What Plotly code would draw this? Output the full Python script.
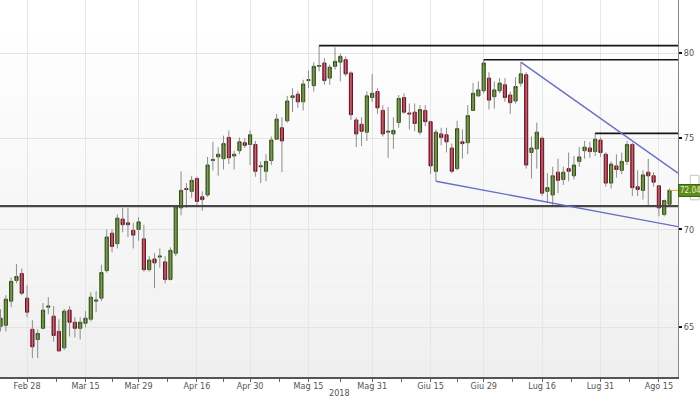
import math

import pandas as pd
import plotly.graph_objects as go

# trading days shown (ICE closed on Good Friday)
dates = [d.strftime("%Y-%m-%d") for d in pd.bdate_range("2018-02-21", "2018-08-17") if d.strftime("%Y-%m-%d") != "2018-03-30"]

open_ = [65.05, 65.1, 66.3, 67.35, 67.7, 66.45, 64.9, 64.4, 64.95, 66.0,
         65.55, 64.8, 64.0, 65.85, 65.25, 64.95, 65.2, 65.4, 66.3, 66.45,
         67.85, 69.8, 69.25, 70.55, 70.35, 69.95, 70.0, 69.5, 67.9, 68.45,
         68.55, 68.3, 67.4, 68.75, 71.15, 72.2, 72.05, 72.75, 71.75, 71.85,
         73.75, 73.95, 73.85, 75.05, 74.0, 74.3, 74.75, 74.65, 74.65, 73.4,
         73.15, 73.75, 74.95, 75.6, 76.0, 77.35, 77.55, 77.1, 78.35, 78.05,
         79.2, 79.4, 78.5, 79.2, 79.45, 79.6, 78.8, 76.05, 75.8, 75.35,
         77.35, 77.7, 76.6, 75.35, 75.25, 75.9, 77.35, 76.45, 76.5, 75.35,
         76.6, 75.95, 73.15, 75.25, 75.2, 74.45, 73.3, 74.8, 74.75, 76.6,
         77.45, 77.75, 78.5, 77.4, 77.75, 78.1, 77.5, 77.15, 78.2, 78.7,
         74.2, 74.4, 75.0, 72.05, 71.85, 73.1, 72.7, 73.3, 72.9, 73.7,
         74.3, 74.45, 74.25, 74.9, 74.1, 72.5, 73.45, 73.2, 73.7, 74.65,
         72.3, 72.1, 73.1, 72.9, 72.35, 70.8, 71.35]
high = [65.9, 66.6, 67.5, 68.2, 67.95, 67.1, 65.35, 64.9, 66.2, 66.5,
        66.05, 65.4, 65.9, 66.05, 65.5, 65.5, 65.8, 66.75, 66.8, 68.15,
        70.0, 70.0, 70.8, 71.15, 71.15, 70.35, 70.65, 70.25, 68.6, 68.75,
        69.0, 68.6, 69.05, 71.3, 73.15, 72.5, 72.9, 72.85, 72.05, 73.95,
        74.8, 74.5, 75.15, 75.45, 74.3, 75.05, 75.0, 75.45, 74.85, 73.7,
        74.1, 75.1, 76.4, 76.2, 77.45, 77.9, 77.75, 78.4, 78.95, 79.45,
        80.45, 79.7, 79.3, 80.35, 79.95, 79.8, 78.9, 76.2, 76.2, 77.7,
        78.75, 77.9, 76.9, 76.8, 76.2, 77.5, 77.6, 77.0, 77.0, 76.9,
        76.9, 76.0, 75.5, 75.6, 75.6, 74.7, 76.0, 75.5, 76.9, 78.2,
        78.3, 79.6, 78.85, 78.3, 78.5, 78.5, 77.7, 78.55, 79.45, 78.85,
        75.1, 75.9, 75.1, 73.05, 73.4, 73.85, 73.4, 74.2, 74.0, 74.5,
        74.85, 74.8, 75.3, 75.05, 74.2, 73.7, 74.1, 74.2, 74.85, 74.75,
        73.2, 73.2, 73.85, 73.1, 72.4, 71.6, 72.2]
low = [64.8, 64.8, 66.0, 67.2, 66.6, 65.5, 63.5, 63.5, 64.9, 65.65,
       64.3, 63.8, 63.9, 64.55, 64.5, 64.4, 65.0, 65.3, 65.75, 66.3,
       67.75, 68.8, 69.0, 69.85, 69.6, 69.0, 69.4, 67.8, 67.8, 66.95,
       68.0, 67.2, 67.35, 68.6, 70.75, 71.15, 71.7, 71.25, 71.0, 71.75,
       73.2, 72.9, 73.25, 73.55, 73.25, 74.1, 74.45, 73.5, 72.85, 72.5,
       72.6, 73.5, 74.9, 73.1, 75.9, 76.5, 76.75, 76.6, 77.9, 77.7,
       78.9, 78.1, 78.1, 79.0, 78.3, 78.6, 76.05, 74.5, 74.55, 74.85,
       77.1, 76.4, 75.1, 73.9, 74.4, 75.6, 76.4, 75.5, 75.4, 75.2,
       75.7, 73.0, 72.6, 74.6, 74.2, 73.05, 73.2, 73.85, 74.1, 76.6,
       77.4, 77.6, 76.65, 76.7, 77.6, 77.1, 76.4, 77.0, 78.0, 73.3,
       72.75, 73.3, 71.8, 71.4, 71.3, 71.95, 72.4, 72.6, 72.7, 73.4,
       73.85, 73.9, 74.0, 73.95, 72.3, 72.2, 72.8, 73.0, 73.5, 71.8,
       71.8, 71.6, 71.3, 72.3, 70.7, 70.7, 71.2]
close = [65.45, 66.4, 67.3, 67.55, 66.7, 65.75, 64.05, 64.7, 65.85, 66.05,
         64.6, 63.85, 65.8, 65.25, 64.95, 65.25, 65.45, 66.5, 66.35, 67.75,
         69.6, 69.1, 70.6, 70.25, 70.25, 69.7, 70.4, 67.9, 68.4, 68.25,
         68.6, 67.4, 68.9, 71.2, 72.1, 72.15, 72.65, 71.5, 71.6, 73.5,
         73.8, 74.1, 74.7, 73.9, 74.1, 74.8, 74.6, 75.2, 73.15, 73.45,
         73.7, 74.9, 76.1, 74.85, 77.15, 77.45, 77.1, 78.15, 78.4, 79.2,
         79.25, 78.35, 79.15, 79.5, 79.8, 78.75, 76.35, 75.25, 75.4, 77.45,
         77.6, 76.75, 75.25, 75.4, 75.45, 77.3, 76.5, 76.4, 75.85, 76.65,
         75.95, 73.45, 75.35, 75.05, 74.8, 73.15, 75.55, 74.7, 76.3, 77.6,
         77.8, 79.4, 77.2, 77.8, 78.2, 77.35, 77.05, 78.0, 78.75, 73.5,
         74.45, 75.35, 71.95, 72.25, 72.9, 72.65, 73.1, 73.15, 73.5, 73.95,
         74.5, 74.25, 74.95, 74.2, 72.5, 73.55, 73.25, 73.7, 74.65, 72.25,
         72.15, 72.95, 72.9, 72.55, 71.15, 71.55, 72.1]

# drawn levels: price and first date of each horizontal line
level_price = [71.25, 80.45, 79.6, 75.28]
level_start = [None, "2018-05-17", "2018-06-29", "2018-07-30"]

# trendlines: start date, start price, price at right edge
trend_start = ["2018-07-10", "2018-06-18"]
trend_p0 = [79.45, 72.6]
trend_p1 = [73.05, 70.15]

tick_dates = ["2018-02-28", "2018-03-15", "2018-03-29", "2018-04-16", "2018-04-30", "2018-05-15",
              "2018-05-31", "2018-06-15", "2018-06-29", "2018-07-16", "2018-07-31", "2018-08-15"]
tick_text = ["Feb 28", "Mar 15", "Mar 29", "Apr 16", "Apr 30", "Mag 15",
             "Mag 31", "Giu 15", "Giu 29", "Lug 16", "Lug 31", "Ago 15"]
y_ticks = [65, 70, 75, 80]
last_label = "72.04"

FONT = "DejaVu Sans Condensed, Liberation Sans Narrow, Arial Narrow, sans-serif"
X0, X1 = -0.1, 127.6
Y_RANGE = [1.79657, 1.92054]  # log10 of 62.6 .. 83.28
idx = list(range(len(dates)))
pos = {d: i for i, d in enumerate(dates)}

fig = go.Figure()

# background gradient
n_bands = 20
for k in range(n_bands):
    g = 255 - int(16 * k / (n_bands - 1))
    fig.add_shape(type="rect", xref="paper", yref="paper", x0=0, x1=1,
                  y0=1 - (k + 1) / n_bands, y1=1 - k / n_bands,
                  fillcolor=f"rgb({g},{g},{g})", line_width=0, layer="below")

# wicks
wx, wy = [], []
for i in idx:
    wx += [i, i, None]
    wy += [low[i], high[i], None]
fig.add_trace(go.Scatter(x=wx, y=wy, mode="lines", line=dict(color="#8c8c8c", width=1),
                         hoverinfo="skip", showlegend=False))

body_hi = [max(o, c) for o, c in zip(open_, close)]
body_lo = [min(o, c) for o, c in zip(open_, close)]
fig.add_trace(go.Candlestick(
    x=idx, open=open_, high=body_hi, low=body_lo, close=close,
    increasing=dict(fillcolor="#5b8c1c", line=dict(color="#2e4d0c", width=1)),
    decreasing=dict(fillcolor="#c4203c", line=dict(color="#6e1020", width=1)),
    showlegend=False))

# horizontal levels
for p, s in zip(level_price, level_start):
    xs = X0 if s is None else pos[s]
    first = s is None
    fig.add_trace(go.Scatter(x=[xs, X1], y=[p, p], mode="lines",
                             line=dict(color="#474747" if first else "#151515", width=2.2 if first else 1.6),
                             hoverinfo="skip", showlegend=False))

# trendlines
for s, p0, p1 in zip(trend_start, trend_p0, trend_p1):
    fig.add_trace(go.Scatter(x=[pos[s], X1], y=[p0, p1], mode="lines",
                             line=dict(color="#6870c4", width=1.4),
                             hoverinfo="skip", showlegend=False))

# last price marker (annotations on a log axis take log10 values)
fig.add_trace(go.Scatter(x=[idx[-1], X1], y=[close[-1], close[-1]], mode="lines",
                         line=dict(color="#e2a23a", width=1), hoverinfo="skip", showlegend=False))
fig.add_shape(type="rect", xref="paper", yref="paper", x0=1.018, x1=1.031, y0=0.47, y1=0.535,
              line=dict(color="#c4c4c4", width=1), fillcolor="rgba(0,0,0,0)")
fig.add_annotation(xref="paper", x=1.0, xanchor="left", yref="y", y=math.log10(close[-1]),
                   text=last_label, showarrow=False, bgcolor="#5b8c1c", bordercolor="#3e6610",
                   borderpad=1, font=dict(family=FONT, size=8, color="#eef3c8"))
fig.add_annotation(xref="paper", x=0.5, yref="paper", y=-0.043, yanchor="middle",
                   text="2018", showarrow=False, font=dict(family=FONT, size=9, color="#555"))

tick_pos = [pos[d] for d in tick_dates]
minor_pos = [(a + b) / 2 for a, b in zip(tick_pos[:-1], tick_pos[1:])]

fig.update_layout(
    width=700, height=400,
    margin=dict(l=0, r=22, t=0, b=23),
    paper_bgcolor="white", plot_bgcolor="white",
    boxgap=0.15,
    font=dict(family=FONT, size=10, color="#555"),
    xaxis=dict(range=[X0, X1], rangeslider=dict(visible=False),
               tickmode="array", tickvals=tick_pos, ticktext=tick_text,
               showgrid=True, gridcolor="#e6e6e6", gridwidth=1,
               showline=True, linecolor="#555", linewidth=2,
               ticks="outside", ticklen=3, tickcolor="#666",
               minor=dict(tickvals=minor_pos, ticks="outside", ticklen=3, tickcolor="#666", showgrid=False),
               ticklabelstandoff=-4,
               tickfont=dict(family=FONT, size=9, color="#555"), zeroline=False),
    yaxis=dict(type="log", side="right", range=Y_RANGE,
               tickmode="array", tickvals=y_ticks, ticktext=[str(v) for v in y_ticks],
               showgrid=True, gridcolor="#e4e4e4",
               showline=True, linecolor="#888", linewidth=1,
               ticks="outside", ticklen=3, tickwidth=2, tickcolor="#111",
               tickfont=dict(family=FONT, size=9, color="#555"), zeroline=False),
)

# the page body has a default 8px margin; drop it so the chart fills the window
fig.write_html("out.html", config={"displayModeBar": False},
               post_script="document.body.style.margin='0';")
